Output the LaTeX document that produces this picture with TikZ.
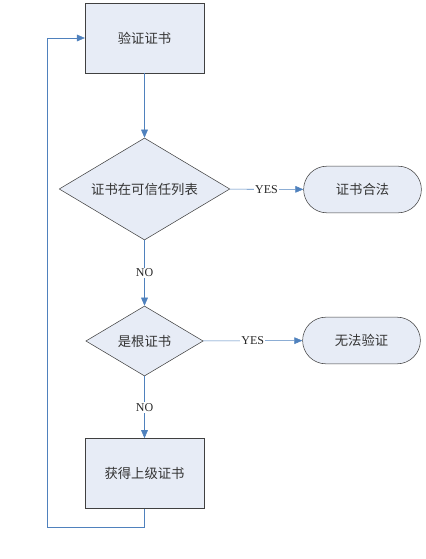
\documentclass[tikz,border=0pt]{standalone}
\usepackage{fontspec}
\setmainfont{Liberation Serif}
\newfontfamily\cjk{Noto Sans CJK SC}
\usetikzlibrary{shapes.geometric,shapes.misc,arrows.meta}
\definecolor{shapefill}{RGB}{231,236,246}
\definecolor{flowblue}{RGB}{79,129,189}

\begin{document}
\begin{tikzpicture}[x=0.75pt,y=-0.75pt,
  stepbox/.style={draw=black!75,fill=shapefill,minimum width=89pt,minimum height=52.5pt,font=\cjk\normalsize,text=black!80},
  decide/.style={diamond,draw=black!75,fill=shapefill,inner sep=0pt,aspect=1.7,font=\cjk\normalsize,text=black!80},
  endbox/.style={rounded rectangle,draw=black!75,fill=shapefill,minimum width=95pt,minimum height=35pt,font=\cjk\normalsize,text=black!80},
  flow/.style={draw=flowblue,-{Triangle[length=6pt,width=5pt]}},
  answer/.style={fill=white,inner sep=1pt,font=\small,text=black!85}]
\useasboundingbox (0,0) rectangle (425,559);

\node[stepbox] (verify) at (144.5,38) {验证证书};
\node[decide,minimum width=128pt,minimum height=76.5pt] (trusted) at (144.5,189) {证书在可信任列表};
\node[endbox] (valid) at (362.5,189.5) {证书合法};
\node[decide,minimum width=88pt,minimum height=52.5pt] (isroot) at (144.5,341) {是根证书};
\node[endbox] (fail) at (361.5,340.5) {无法验证};
\node[stepbox] (parent) at (144.5,473.5) {获得上级证书};

\coordinate (loopbot) at (47,527);
\coordinate (looptop) at (47,38);

\draw[flow] (verify) -- (trusted);
\draw[flow] (trusted) -- node[answer] {YES} (valid);
\draw[flow] (trusted) -- node[answer] {NO} (isroot);
\draw[flow] (isroot) -- node[answer] {YES} (fail);
\draw[flow] (isroot) -- node[answer] {NO} (parent);
\draw[flow] (parent.south) |- (loopbot) -- (looptop) -- (verify.west);
\end{tikzpicture}
\end{document}
